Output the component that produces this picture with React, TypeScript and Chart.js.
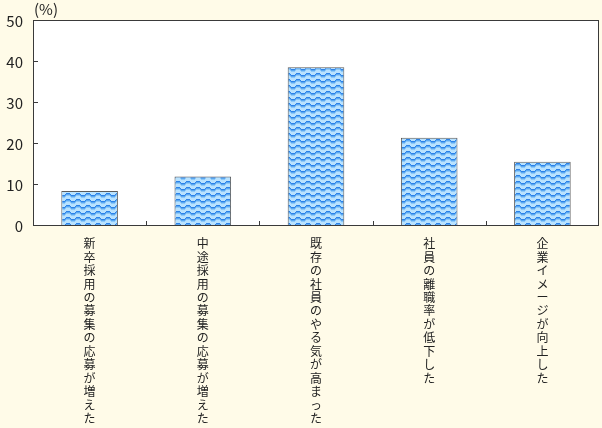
import React, { useEffect, useRef } from 'react';
import { Chart, registerables } from 'chart.js';

Chart.register(...registerables);

const categories = [
  '新卒採用の募集の応募が増えた',
  '中途採用の募集の応募が増えた',
  '既存の社員のやる気が高まった',
  '社員の離職率が低下した',
  '企業イメージが向上した',
];
const values = [8.3, 11.8, 38.5, 21.3, 15.4];
const yTicks = [0, 10, 20, 30, 40, 50];

const AXIS = '#3a3a3a';
const FONT = '"Noto Sans CJK JP", "Noto Sans", sans-serif';

// wavy blue fill like the original print chart
const makePattern = (ctx: CanvasRenderingContext2D) => {
  const tile = document.createElement('canvas');
  tile.width = 10;
  tile.height = 6;
  const t = tile.getContext('2d')!;
  t.fillStyle = '#b8e2ff';
  t.fillRect(0, 0, 10, 6);
  for (let x = 0; x < 10; x++) {
    const y = Math.round(2 + 1.4 * Math.sin((2 * Math.PI * x) / 10));
    t.fillStyle = '#2c82e8';
    t.fillRect(x, y, 1, 1);
    t.fillStyle = '#5aa8f2';
    t.fillRect(x, y + 1, 1, 1);
    t.fillStyle = '#8cc8f8';
    t.fillRect(x, y + 2, 1, 1);
  }
  return ctx.createPattern(tile, 'repeat') as CanvasPattern;
};

const framePlugin = {
  id: 'frame',
  beforeDatasetsDraw(chart: Chart) {
    const { ctx, chartArea: a } = chart;
    ctx.save();
    ctx.fillStyle = '#ffffff';
    ctx.fillRect(a.left, a.top, a.right - a.left, a.bottom - a.top);
    ctx.restore();
  },
  afterDatasetsDraw(chart: Chart) {
    const { ctx, chartArea: a } = chart;
    const ys = chart.scales.y;
    const xs = chart.scales.x;
    ctx.save();
    ctx.strokeStyle = AXIS;
    ctx.lineWidth = 1;
    ctx.strokeRect(a.left + 0.5, a.top + 0.5, a.right - a.left - 1, a.bottom - a.top);
    ctx.beginPath();
    yTicks.forEach((v) => {
      const y = Math.round(ys.getPixelForValue(v)) + 0.5;
      ctx.moveTo(a.left, y);
      ctx.lineTo(a.left + 5, y);
    });
    for (let i = 0; i < categories.length - 1; i++) {
      const x = Math.round((xs.getPixelForTick(i) + xs.getPixelForTick(i + 1)) / 2) + 0.5;
      ctx.moveTo(x, a.bottom);
      ctx.lineTo(x, a.bottom - 4);
    }
    ctx.stroke();
    ctx.fillStyle = '#222';
    ctx.font = `15px ${FONT}`;
    // y tick labels, placed by the y scale
    ctx.textAlign = 'right';
    ctx.textBaseline = 'middle';
    yTicks.forEach((v) => {
      ctx.fillText(String(v), a.left - 10, ys.getPixelForValue(v) + 1);
    });
    ctx.textAlign = 'left';
    ctx.textBaseline = 'alphabetic';
    ctx.fillText('(%)', a.left + 1, a.top - 5);
    ctx.restore();
  },
};

const App: React.FC = () => {
  const chartRef = useRef<HTMLCanvasElement>(null);
  const chartInstance = useRef<Chart | null>(null);

  useEffect(() => {
    if (!chartRef.current) return;
    const ctx = chartRef.current.getContext('2d');
    if (!ctx) return;

    if (chartInstance.current) {
      chartInstance.current.destroy();
      chartInstance.current = null;
    }

    const pattern = makePattern(ctx);

    chartInstance.current = new Chart(ctx, {
      type: 'bar',
      data: {
        labels: categories.map((c) => c.split('')),
        datasets: [{
          data: values,
          backgroundColor: pattern,
          borderColor: '#5a5a5a',
          borderWidth: 1,
          borderSkipped: 'bottom',
          categoryPercentage: 1,
          barPercentage: 0.5,
        }],
      },
      options: {
        animation: false,
        responsive: true,
        maintainAspectRatio: false,
        layout: { padding: { top: 20, right: 3, left: 0, bottom: 0 } },
        scales: {
          x: {
            grid: { display: false, drawTicks: false },
            border: { display: false },
            ticks: {
              color: '#222',
              font: { family: FONT, size: 12, lineHeight: 1.12 },
              maxRotation: 0,
              minRotation: 0,
              autoSkip: false,
              padding: 12,
            },
            afterFit: (s: any) => { s.height = 203; },
          },
          y: {
            min: 0,
            max: 50,
            grid: { display: false, drawTicks: false },
            border: { display: false },
            afterBuildTicks: (s: any) => { s.ticks = yTicks.map((v) => ({ value: v })); },
            ticks: { display: false },
            afterFit: (s: any) => { s.width = 33; },
          },
        },
        plugins: {
          legend: { display: false },
          tooltip: { enabled: false },
        },
      },
      plugins: [framePlugin],
    });

    return () => {
      if (chartInstance.current) {
        chartInstance.current.destroy();
        chartInstance.current = null;
      }
    };
  }, []);

  return (
    <div style={{ position: 'absolute', left: 0, top: 0, width: 602, height: 428, background: '#fffbe8' }}>
      <canvas ref={chartRef}></canvas>
    </div>
  );
};

export default App;
